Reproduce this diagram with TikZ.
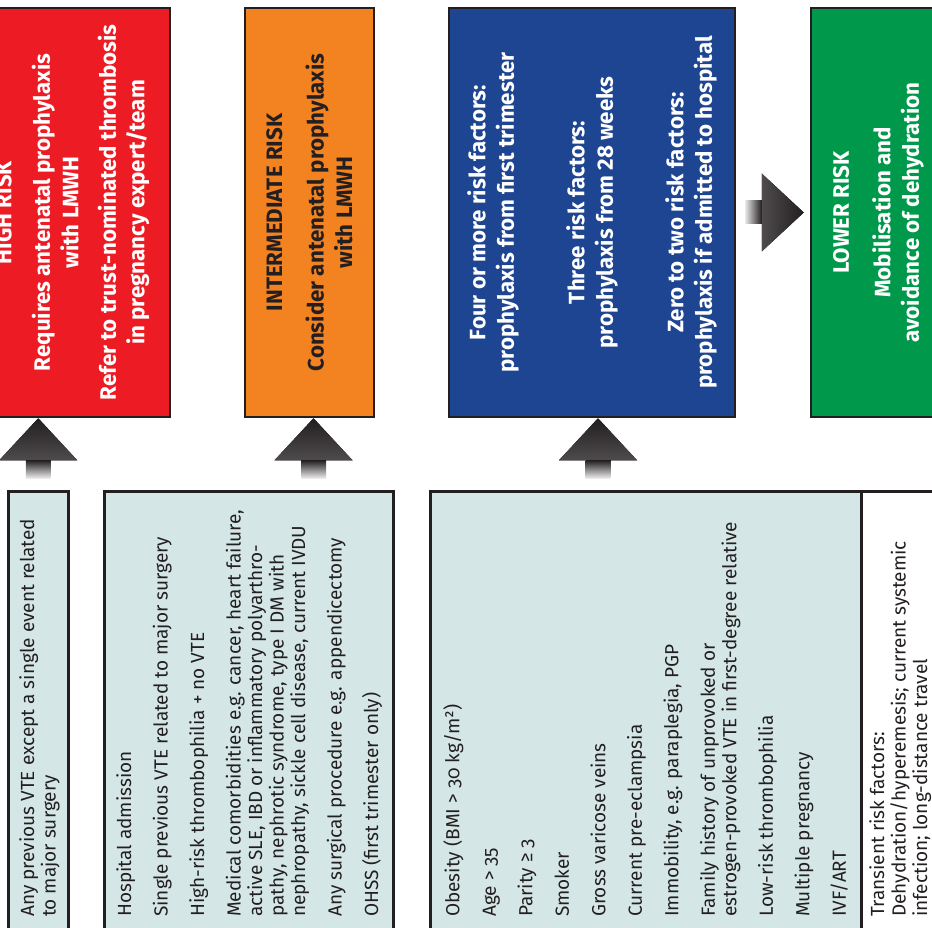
\documentclass[tikz,border=0pt]{standalone}
\usepackage{fontspec}
\setmainfont{Fira Sans}
\newfontfamily\factfont{Fira Sans}[Numbers=OldStyle]
\usepackage{tikz}
\definecolor{hired}{RGB}{237,28,36}
\definecolor{midorange}{RGB}{243,130,33}
\definecolor{manyblue}{RGB}{30,69,145}
\definecolor{lowgreen}{RGB}{0,153,76}
\definecolor{factfill}{RGB}{212,231,230}
\definecolor{edge}{RGB}{35,31,32}

\begin{document}
\begin{tikzpicture}[x=1pt,y=-1pt,
	riskbox/.style={draw=edge,line width=2.5pt,inner sep=0pt,minimum height=409pt},
	risktxt/.style={rotate=90,align=center,inner sep=0pt,text=white,
		font=\bfseries\fontsize{22.3}{28.5}\selectfont},
	factbox/.style={draw=edge,line width=2.5pt,fill=factfill,inner sep=0pt,
		anchor=north west,minimum height=460pt},
	facttxt/.style={rotate=90,anchor=north west,align=left,inner sep=0pt,text=edge,
		font=\factfont\fontsize{19}{21.5}\selectfont},
	uphead/.style={top color=edge,bottom color=edge!80!white},
	uptail/.style={top color=edge,bottom color=edge!8!white}]
		%\draw [help lines,step=50] (0,0) grid (932,928);
		\useasboundingbox (0,0) rectangle (932,928);
		\clip (0,0) rectangle (932,928);
		
		% Livelli di rischio
		\node [riskbox,fill=hired,minimum width=195pt] (high) at (72.5,212.5) {};
		\node [risktxt] (hightxt) at (high) {HIGH RISK\\[10pt]
			Requires antenatal prophylaxis\\ with LMWH\\[9pt]
			Refer to trust-nominated thrombosis\\ in pregnancy expert/team};
		\node [riskbox,fill=midorange,minimum width=129pt] (inter) at (309.5,212.5) {};
		\node [risktxt,text=edge] (intertxt) at (inter) {INTERMEDIATE RISK\\[13pt]
			Consider antenatal prophylaxis\\ with LMWH};
		\node [riskbox,fill=manyblue,minimum width=286pt] (many) at (592,212.5) {};
		\node [risktxt] (manytxt) at (many) {Four or more risk factors:\\
			prophylaxis from first trimester\\[42pt]
			Three risk factors:\\ prophylaxis from 28 weeks\\[42pt]
			Zero to two risk factors:\\ prophylaxis if admitted to hospital};
		\node [riskbox,fill=lowgreen,minimum width=135pt] (low) at (878.5,212.5) {};
		\node [risktxt] (lowtxt) at (low) {LOWER RISK\\[13pt]
			Mobilisation and\\ avoidance of dehydration};
		
		% Fattori di rischio
		\node [factbox,minimum width=60pt] (fhigh) at (7,490) {};
		\node [facttxt] (fhightxt) at ([shift={(12,427)}]fhigh.north west)
			{Any previous VTE except a single event related\\ to major surgery};
		\node [factbox,minimum width=289pt] (finter) at (103,490) {};
		\node [facttxt] (fintertxt) at ([shift={(13,427)}]finter.north west)
			{Hospital admission\\[15pt]
			Single previous VTE related to major surgery\\[15pt]
			High-risk thrombophilia + no VTE\\[15pt]
			Medical comorbidities e.g. cancer, heart failure,\\
			active SLE, IBD or inflammatory polyarthro-\\
			pathy, nephrotic syndrome, type I DM with\\
			nephropathy, sickle cell disease, current IVDU\\[15pt]
			Any surgical procedure e.g. appendicectomy\\[15pt]
			OHSS (first trimester only)};
		\node [factbox,minimum width=431pt] (fmany) at (429,490) {};
		\node [facttxt] (fmanytxt) at ([shift={(14,427)}]fmany.north west)
			{Obesity (BMI > 30 kg/m²)\\[15pt]
			Age > 35\\[15pt]
			Parity ≥ 3\\[15pt]
			Smoker\\[15pt]
			Gross varicose veins\\[15pt]
			Current pre-eclampsia\\[15pt]
			Immobility, e.g. paraplegia, PGP\\[15pt]
			Family history of unprovoked or\\
			estrogen-provoked VTE in first-degree relative\\[15pt]
			Low-risk thrombophilia\\[15pt]
			Multiple pregnancy\\[15pt]
			IVF/ART};
		\node [factbox,fill=white,minimum width=100pt] (flow) at (860,490) {};
		\node [facttxt] (flowtxt) at ([shift={(9,427)}]flow.north west)
			{Transient risk factors:\\
			Dehydration/hyperemesis; current systemic\\
			infection; long-distance travel};
		
		% Frecce
		\coordinate (tip1) at (high.south -| fhigh.north);
		\coordinate (tip2) at ([xshift=4pt]inter.south);
		\coordinate (tip3) at ([xshift=6pt]many.south);
		\foreach \t in {tip1,tip2,tip3}{
			\fill [uphead] (\t) -- ++(39,42) -- ++(-78,0) -- cycle;
			\fill [uptail] ([shift={(-12.5,42)}]\t) rectangle ++(25,18);
		}
		\coordinate (tip4) at ([xshift=-6pt]low.west);
		\fill [left color=edge!80!white,right color=edge] (tip4) -- ++(-42,-39) -- ++(0,78) -- cycle;
		\fill [left color=edge!8!white,right color=edge] ([shift={(-42,-11.5)}]tip4) rectangle ++(-17,23);
	\end{tikzpicture}
\end{document}
